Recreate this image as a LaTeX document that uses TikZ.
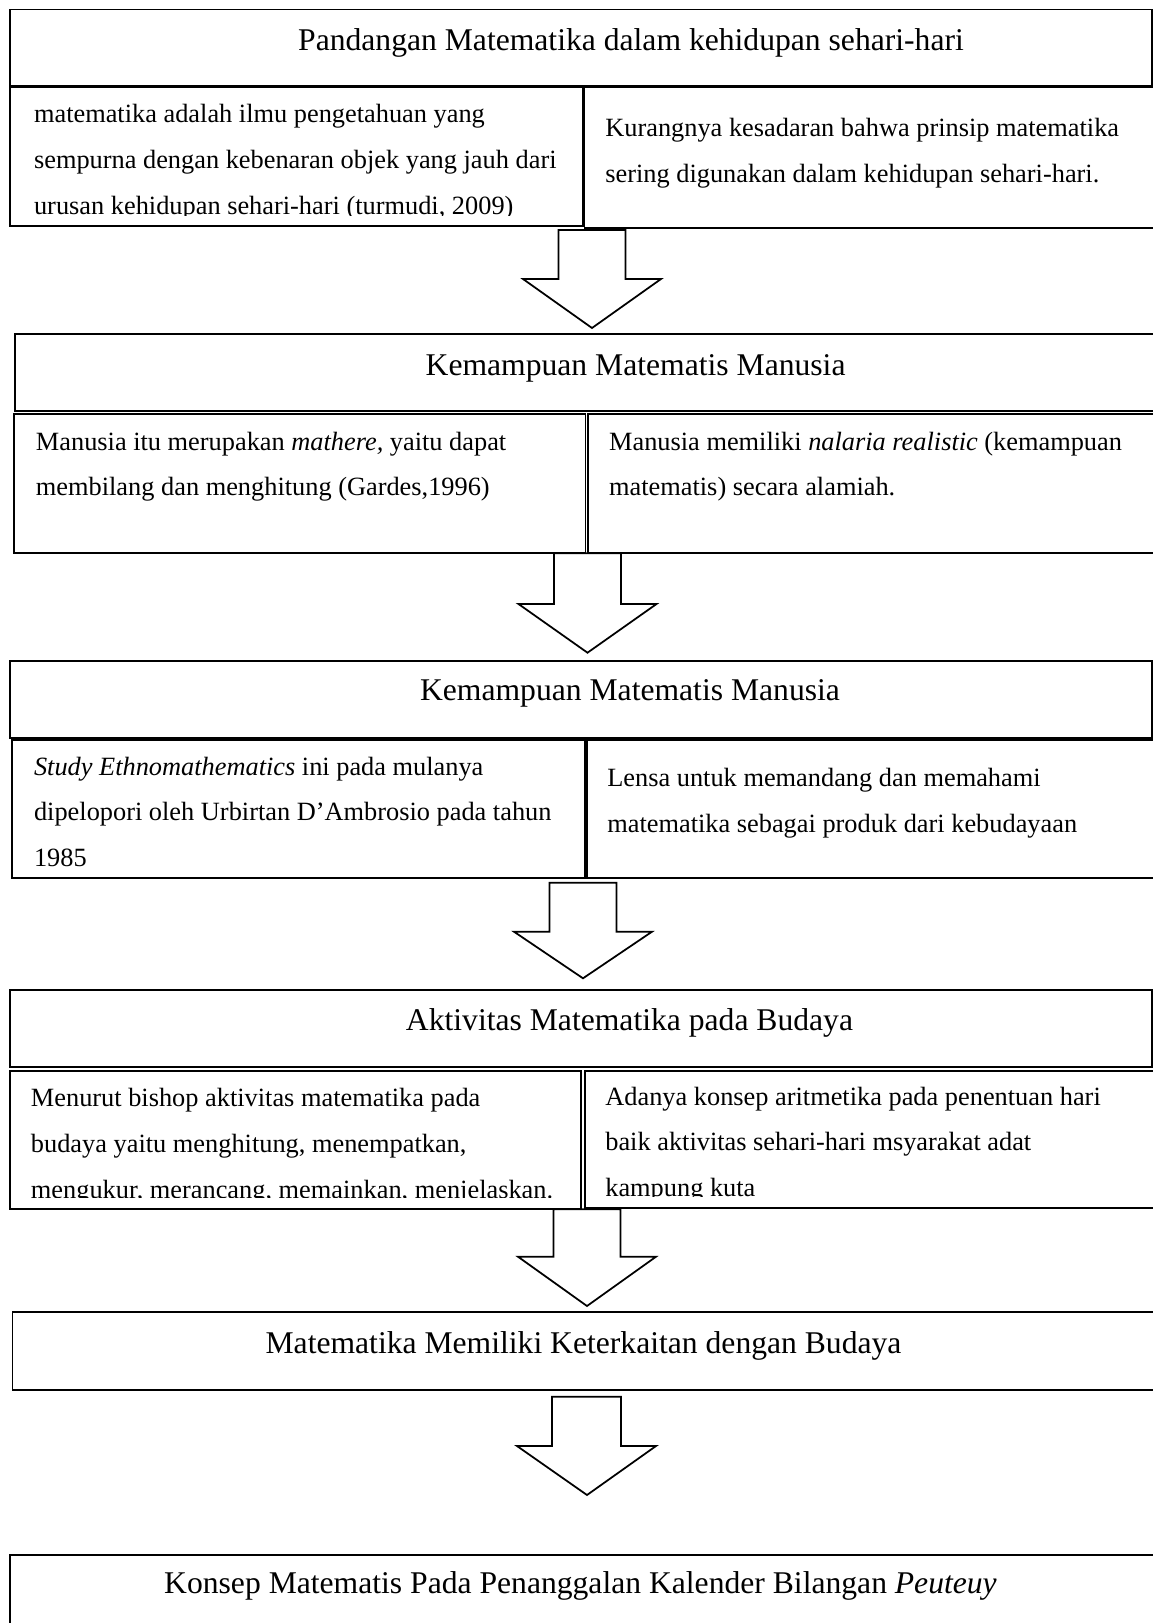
\documentclass[tikz,border=0pt]{standalone}
\usepackage{fontspec}
\setmainfont{Liberation Serif}
\tikzset{
  kotak/.style={draw,line width=1.1pt},
  panah/.style={draw,line width=1pt,fill=white},
  judul/.style={anchor=base,inner sep=0pt,font=\fontsize{18}{22}\selectfont},
  isi/.style={anchor=base west,inner sep=0pt,font=\fontsize{15}{26}\selectfont}
}
\begin{document}
\begin{tikzpicture}[x=0.02cm,y=-0.02cm]
\useasboundingbox (0,0) rectangle (1153,1623);
% baris 1
\draw[kotak](10,9.5)rectangle(1152,86);
\node[judul](judul1) at (631,50){Pandangan Matematika dalam kehidupan sehari-hari};
\draw[kotak](10,87)rectangle(582.7,226);
\draw[kotak](584.5,87)rectangle(1160,228);
\begin{scope}
\clip(10,87)rectangle(582.7,215);
\node[isi](kiri1) at (33.7,122.7){\parbox[t]{11cm}{matematika adalah ilmu pengetahuan yang\\sempurna dengan kebenaran objek yang jauh dari\\urusan kehidupan sehari-hari (turmudi, 2009)}};
\end{scope}
\node[isi](kanan1) at (605,136.7){\parbox[t]{11cm}{Kurangnya kesadaran bahwa prinsip matematika\\sering digunakan dalam kehidupan sehari-hari.}};
\draw[panah](558.5,230)--(625.5,230)--(625.5,279)--(661,279)--(592,328)--(523,279)--(558.5,279)--cycle;
% baris 2
\draw[kotak](15,334)rectangle(1160,411);
\node[judul](judul2) at (635.6,375){Kemampuan Matematis Manusia};
\draw[kotak](14,414)rectangle(585.5,553);
\draw[kotak](588.3,414)rectangle(1160,553);
\node[isi](kiri2) at (35.6,450){\parbox[t]{11cm}{Manusia itu merupakan \textit{mathere,} yaitu dapat\\membilang dan menghitung (Gardes,1996)}};
\node[isi](kanan2) at (608.8,450){\parbox[t]{11cm}{Manusia memiliki \textit{nalaria realistic} (kemampuan\\matematis) secara alamiah.}};
\draw[panah](554,553.3)--(621,553.3)--(621,604)--(656.5,604)--(587.5,652.7)--(518.5,604)--(554,604)--cycle;
% baris 3
\draw[kotak](10,660.7)rectangle(1152,738);
\node[judul](judul3) at (630,700.7){Kemampuan Matematis Manusia};
\draw[kotak](12,740)rectangle(584.6,878.3);
\draw[kotak](587.2,740)rectangle(1160,878);
\node[isi](kiri3) at (33.7,775){\parbox[t]{11cm}{\textit{Study Ethnomathematics} ini pada mulanya\\dipelopori oleh Urbirtan D’Ambrosio pada tahun\\1985}};
\node[isi](kanan3) at (607,786.7){\parbox[t]{11cm}{Lensa untuk memandang dan memahami\\matematika sebagai produk dari kebudayaan}};
\draw[panah](549.5,882.7)--(616.5,882.7)--(616.5,931.7)--(652,931.7)--(583,978.3)--(514,931.7)--(549.5,931.7)--cycle;
% baris 4
\draw[kotak](10,990)rectangle(1152,1067);
\node[judul](judul4) at (629.5,1030){Aktivitas Matematika pada Budaya};
\draw[kotak](10,1070.7)rectangle(580.7,1209.3);
\draw[kotak](584.6,1070.7)rectangle(1160,1207.7);
\begin{scope}
\clip(10,1070.7)rectangle(580.7,1197.3);
\node[isi](kiri4) at (30.6,1106.7){\parbox[t]{11cm}{Menurut bishop aktivitas matematika pada\\budaya yaitu menghitung, menempatkan,\\mengukur, merancang, memainkan, menjelaskan.}};
\end{scope}
\begin{scope}
\clip(584.6,1070.7)rectangle(1160,1196.7);
\node[isi](kanan4) at (605,1105){\parbox[t]{11cm}{Adanya konsep aritmetika pada penentuan hari\\baik aktivitas sehari-hari msyarakat adat\\kampung kuta}};
\end{scope}
\draw[panah](553.5,1209.3)--(620.5,1209.3)--(620.5,1256.7)--(656,1256.7)--(587,1306)--(518,1256.7)--(553.5,1256.7)--cycle;
% baris 5
\draw[kotak](12.5,1312)rectangle(1160,1390);
\node[judul](judul5) at (583.5,1353){Matematika Memiliki Keterkaitan dengan Budaya};
\draw[panah](552,1396.7)--(621,1396.7)--(621,1446)--(656,1446)--(587,1495)--(517,1446)--(552,1446)--cycle;
% baris 6
\draw[kotak](10.3,1555)rectangle(1160,1640);
\node[judul](judul6) at (580.5,1593){Konsep Matematis Pada Penanggalan Kalender Bilangan \textit{Peuteuy}};
\end{tikzpicture}
\end{document}
